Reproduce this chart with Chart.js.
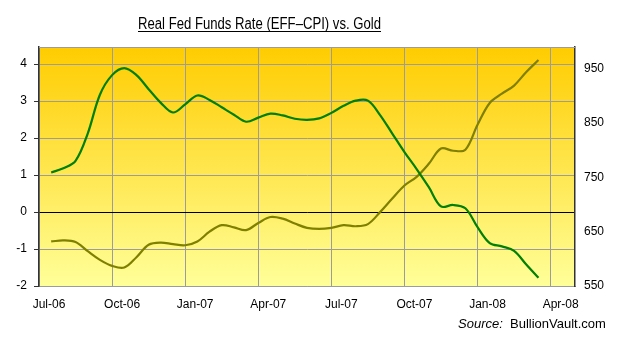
<!DOCTYPE html>
<html>
<head>
<meta charset="utf-8">
<title>Real Fed Funds Rate vs. Gold</title>
<script src="https://cdn.jsdelivr.net/npm/chart.js@4.4.1/dist/chart.umd.min.js"></script>
<style>
  html, body { margin: 0; padding: 0; background: #fff; }
  #wrap { position: relative; width: 620px; height: 341px; }
</style>
</head>
<body>
<div id="wrap"><canvas id="chart" width="620" height="341"></canvas></div>
<script>
// ---- data: x is months counted from Jul-06 (0 = Jul-06, 3 = Oct-06, ...) ----
const months = [
  0.5, 1, 1.5, 2, 2.5, 3, 3.5, 4, 4.5, 5, 5.5, 6, 6.5, 7, 7.5, 8, 8.5, 9, 9.5, 10,
  10.5, 11, 11.5, 12, 12.5, 13, 13.5, 14, 14.5, 15, 15.5, 16, 16.5, 17, 17.5, 18,
  18.5, 19, 19.5, 20, 20.5
];

// real fed funds rate, EFF minus CPI (%), left axis
const realRate = [
  1.07, 1.18, 1.38, 2.12, 3.17, 3.70, 3.89, 3.70, 3.32, 2.95, 2.69, 2.91, 3.15, 3.03,
  2.83, 2.63, 2.44, 2.55, 2.66, 2.61, 2.52, 2.49, 2.53, 2.68, 2.87, 3.01, 3.01, 2.62,
  2.12, 1.62, 1.16, 0.67, 0.15, 0.19, 0.10, -0.41, -0.84, -0.93, -1.05, -1.42, -1.78
];

// gold price (USD/oz), right axis
const goldPrice = [
  632, 634, 631, 614, 598, 587, 584, 603, 626, 630, 627, 625, 632, 650, 662, 658, 653,
  666, 677, 674, 665, 657, 655, 657, 662, 660, 664, 686, 711, 735, 751, 775, 803, 799,
  801, 847, 887, 904, 919, 944, 966
];

const quarterTicks = [0, 3, 6, 9, 12, 15, 18, 21];
const quarterLabels = ["Jul-06", "Oct-06", "Jan-07", "Apr-07", "Jul-07", "Oct-07", "Jan-08", "Apr-08"];
const rateTicks = [-2, -1, 0, 1, 2, 3, 4];
const goldTicks = [550, 650, 750, 850, 950];

const FONT = "'Liberation Sans', Arial, sans-serif";
const GRID = "#9c9c9c";

// plot background gradient + frame, title and source line
const decorPlugin = {
  id: "decor",
  beforeDraw(chart) {
    const { ctx, chartArea: a } = chart;
    const g = ctx.createLinearGradient(0, a.top, 0, a.bottom);
    g.addColorStop(0, "#ffcc00");
    g.addColorStop(1, "#ffff99");
    ctx.save();
    ctx.fillStyle = g;
    ctx.fillRect(a.left, a.top, a.right - a.left, a.bottom - a.top);
    ctx.restore();
  },
  beforeDatasetsDraw(chart) {
    const { ctx, chartArea: a } = chart;
    ctx.save();
    ctx.strokeStyle = GRID;
    ctx.lineWidth = 1;
    ctx.beginPath();
    ctx.moveTo(a.left, a.top + 0.5);
    ctx.lineTo(a.right, a.top + 0.5);
    ctx.stroke();
    ctx.restore();
  },
  afterDraw(chart) {
    const ctx = chart.ctx;
    ctx.save();

    // title, squeezed horizontally, underlined
    const title = "Real Fed Funds Rate (EFF\u2013CPI) vs. Gold";
    ctx.font = "16px 'Liberation Sans Narrow', 'Liberation Sans', Arial, sans-serif";
    const w = ctx.measureText(title).width;
    ctx.translate(259.5, 0);
    ctx.scale(243 / w, 1);
    ctx.fillStyle = "#000";
    ctx.textAlign = "center";
    ctx.textBaseline = "alphabetic";
    ctx.fillText(title, 0, 29);
    ctx.fillRect(-w / 2, 31, w, 1);
    ctx.setTransform(1, 0, 0, 1, 0, 0);

    // source line
    ctx.textAlign = "left";
    ctx.font = "italic 13px " + FONT;
    ctx.fillText("Source:", 458, 328);
    ctx.font = "13px " + FONT;
    ctx.fillText("BullionVault.com", 510, 328);
    ctx.restore();
  }
};

new Chart(document.getElementById("chart"), {
  type: "line",
  data: {
    datasets: [
      {
        label: "Real Fed Funds Rate",
        data: months.map((m, i) => ({ x: m, y: realRate[i] })),
        yAxisID: "y",
        borderColor: "#008000",
        borderWidth: 2.2,
        pointRadius: 0,
        tension: 0.35,
        fill: false
      },
      {
        label: "Gold",
        data: months.map((m, i) => ({ x: m, y: goldPrice[i] })),
        yAxisID: "y1",
        borderColor: "#808000",
        borderWidth: 2.2,
        pointRadius: 0,
        tension: 0.35,
        fill: false
      }
    ]
  },
  options: {
    responsive: false,
    animation: false,
    devicePixelRatio: 1,
    layout: { padding: { top: 47, left: 0, right: 0, bottom: 0 } },
    plugins: {
      legend: { display: false },
      tooltip: { enabled: false },
      title: { display: false }
    },
    scales: {
      x: {
        type: "linear",
        min: 0,
        max: 22,
        afterBuildTicks: s => { s.ticks = quarterTicks.map(v => ({ value: v })); },
        afterFit: s => { s.height = 55; },
        ticks: {
          autoSkip: false,
          maxRotation: 0,
          labelOffset: 10,
          padding: 11,
          color: "#000",
          font: { family: FONT, size: 12 },
          callback: v => quarterLabels[quarterTicks.indexOf(v)]
        },
        grid: { color: GRID, drawTicks: false },
        border: { display: true, color: GRID }
      },
      y: {
        position: "left",
        min: -2,
        max: 4.46,
        afterBuildTicks: s => { s.ticks = rateTicks.map(v => ({ value: v })); },
        afterFit: s => { s.width = 39; },
        ticks: {
          padding: 7,
          color: "#000",
          font: { family: FONT, size: 12 }
        },
        grid: {
          color: c => (c.tick && c.tick.value === 0 ? "#000" : GRID),
          tickColor: "#333",
          tickLength: 5
        },
        border: { display: true, color: "#333", width: 1.5 }
      },
      y1: {
        position: "right",
        min: 550,
        max: 990,
        afterBuildTicks: s => { s.ticks = goldTicks.map(v => ({ value: v })); },
        afterFit: s => { s.width = 45; },
        ticks: {
          padding: 9,
          color: "#000",
          font: { family: FONT, size: 12 }
        },
        grid: { drawOnChartArea: false, drawTicks: false },
        border: { display: true, color: "#333", width: 1.5 }
      }
    }
  },
  plugins: [decorPlugin]
});
</script>
</body>
</html>
